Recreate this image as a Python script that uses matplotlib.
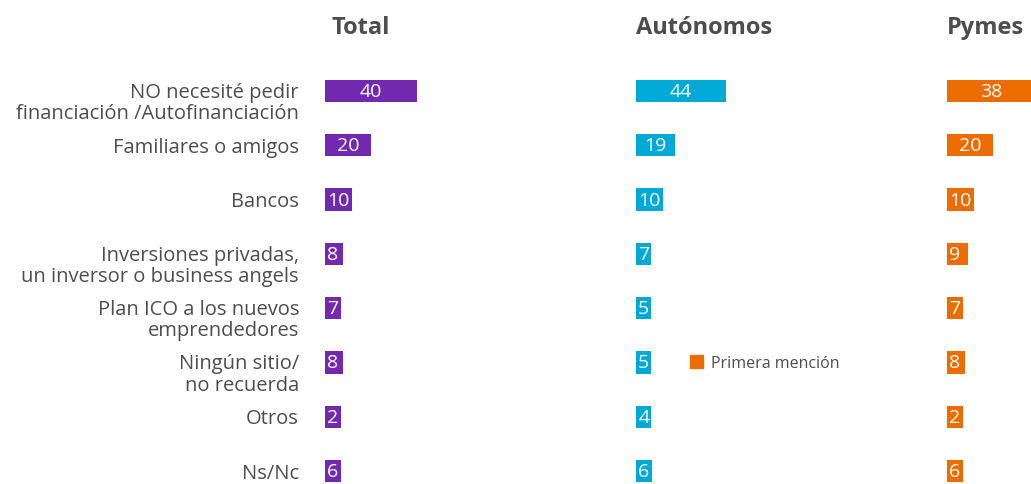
import matplotlib.pyplot as plt
from matplotlib.patches import Patch

plt.rcParams['font.family'] = ['Open Sans', 'DejaVu Sans']

categories = [
    "NO necesité pedir\nfinanciación /Autofinanciación",
    "Familiares o amigos",
    "Bancos",
    "Inversiones privadas,\nun inversor o business angels",
    "Plan ICO a los nuevos\nemprendedores",
    "Ningún sitio/\nno recuerda",
    "Otros",
    "Ns/Nc",
]
total = [40, 20, 10, 8, 7, 8, 2, 6]
autonomos = [44, 19, 10, 7, 5, 5, 4, 6]
pymes = [38, 20, 10, 9, 7, 8, 2, 6]

panels = [
    ("Total", total, "#7229AF", 325, 2.3),
    ("Autónomos", autonomos, "#00A9D6", 636, 2.05),
    ("Pymes", pymes, "#EC6C00", 947, 2.3),
]

W, H = 1031, 485
text_col = "#4D4D4D"
fig = plt.figure(figsize=(W / 100, H / 100), dpi=100)

# rows: first centre at 92px, spacing 54.3px
row_h = 54.3
top_px = 92 - row_h / 2
n = len(categories)
ylo = (H - 92) / row_h
pad_pt = 1.6

axes = []
for title, vals, col, x0, scale in panels:
    width_px = 250
    ax = fig.add_axes([x0 / W, 0, width_px / W, (H - top_px) / H])
    ax.set_xlim(0, width_px / scale)
    ax.set_ylim(ylo, -0.5)
    ax.barh(range(n), vals, height=0.41, color=col, clip_on=False)
    for i, v in enumerate(vals):
        if v * scale > 30:
            ax.text(v / 2, i, str(v), ha='center', va='center', color='white',
                    fontsize=14)
        else:
            ax.text(pad_pt * 1.39 / scale, i, str(v), ha='left', va='center',
                    color='white', fontsize=14,
                    bbox=dict(facecolor=col, edgecolor='none', pad=pad_pt))
    ax.axis('off')
    fig.text(x0 / W + 6 / W if title == "Total" else x0 / W, 1 - 28 / H, title,
             fontsize=17, fontweight='bold', color=text_col, va='center', ha='left')
    axes.append(ax)

# category labels
ax0 = axes[0]
for i, lab in enumerate(categories):
    if "\n" in lab:
        ax0.text(-26 / 2.3, i - 0.17, lab, ha='right', va='top', color=text_col,
                 fontsize=14.5, linespacing=1.1)
    else:
        ax0.text(-26 / 2.3, i + 0.03, lab, ha='right', va='center', color=text_col,
                 fontsize=14.5)

fig.legend(handles=[Patch(color="#EC6C00")], labels=["Primera mención"],
           loc='center left', bbox_to_anchor=(682 / W, 1 - 364 / H),
           frameon=False, fontsize=11.5, handlelength=0.8, handleheight=0.8,
           handletextpad=0.5, borderpad=0, labelcolor=text_col)

fig.savefig("out.png", dpi=100)
